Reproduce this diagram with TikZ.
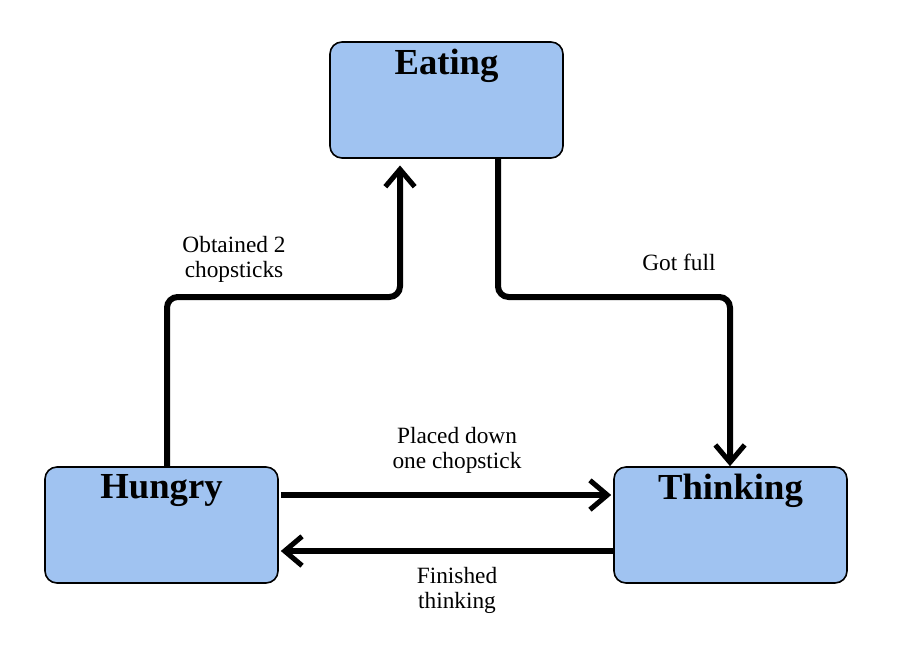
\documentclass[tikz,border=0pt]{standalone}
\usepackage{fontspec}
\setmainfont{Liberation Serif}
\usetikzlibrary{arrows.meta,positioning}

\tikzset{
  state/.style={draw, line width=1.2pt, rounded corners=9pt, fill=stateblue,
    minimum width=174.75pt, minimum height=87pt, inner sep=0pt},
  statename/.style={font=\bfseries\fontsize{27.5}{30}\selectfont, inner sep=0pt, anchor=north},
  flow/.style={line width=4.5pt, rounded corners=8pt, -{Straight Barb[length=13pt,width=22pt,line width=3.8pt]}},
  flowtext/.style={align=center, font=\fontsize{17.5}{18.75}\selectfont, inner sep=0pt}
}
\definecolor{stateblue}{HTML}{A0C3F1}

\begin{document}
\begin{tikzpicture}[x=0.75pt,y=-0.75pt]
			\useasboundingbox (0,0) rectangle (903,644);
			% states
			\node[state] (eating) at (446.5,100) {};
			\node[state] (hungry) at (161.5,525) {};
			\node[state] (thinking) at (730.5,525) {};
			\node[statename] (eatingname) at ([yshift=-6pt]eating.north) {Eating};
			\node[statename] (hungryname) at ([yshift=-6pt]hungry.north) {Hungry};
			\node[statename] (thinkingname) at ([yshift=-6pt]thinking.north) {Thinking};

			% bends
			\coordinate (hl) at (167,297);
			\coordinate (hr) at (400,297);
			\coordinate (tl) at (498,297);
			\coordinate (tr) at (730,297);
			\coordinate (up) at (0,495);
			\coordinate (dn) at (0,551);

			\draw[flow, shorten >=5pt] (hungry.north -| hl) -- (hl) -- (hr) -- (eating.south -| hr);
			\draw[flow] (eating.south -| tl) -- (tl) -- (tr) -- (thinking.north -| tr);
			\draw[flow, shorten <=1.5pt, shorten >=1.5pt] (hungry.east |- up) -- (thinking.west |- up);
			\draw[flow, shorten >=1.5pt] (thinking.west |- dn) -- (hungry.east |- dn);

			% labels
			\node[flowtext] (obtained) at (234,259) {Obtained 2\\chopsticks};
			\node[flowtext] (gotfull) at (679,262) {Got full};
			\node[flowtext] (placed) at (457,450) {Placed down\\one chopstick};
			\node[flowtext] (finished) at (457,590) {Finished\\thinking};
		\end{tikzpicture}
\end{document}
